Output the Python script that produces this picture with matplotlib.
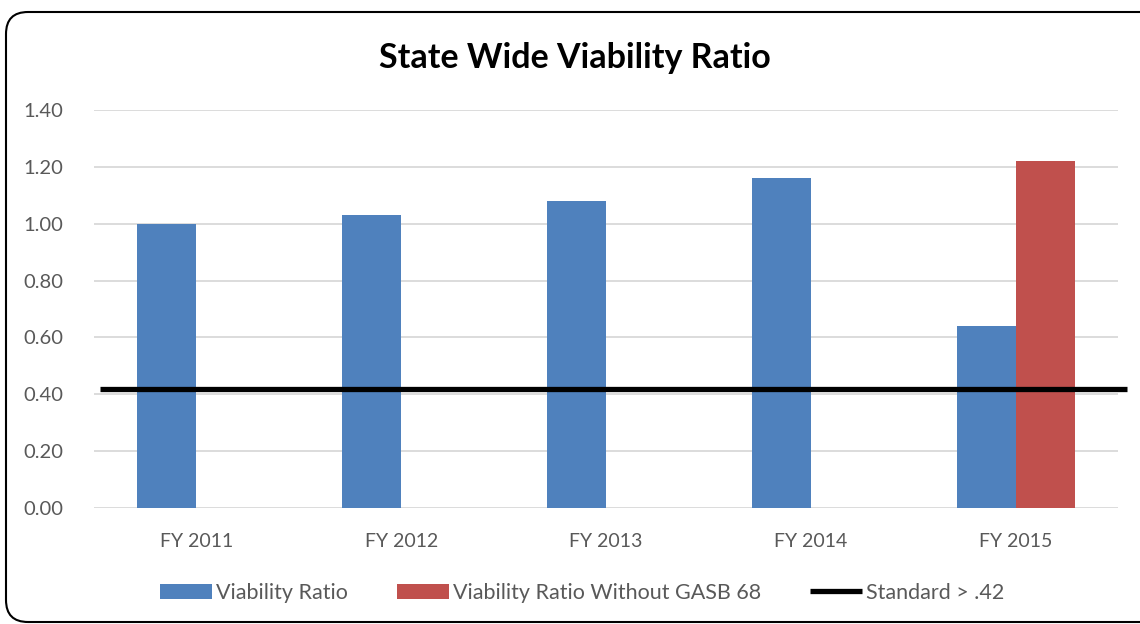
import matplotlib
matplotlib.use("Agg")
import matplotlib.pyplot as plt
from matplotlib.patches import FancyBboxPatch
import numpy as np

categories = ["FY 2011", "FY 2012", "FY 2013", "FY 2014", "FY 2015"]
viability_ratio = [1.00, 1.03, 1.08, 1.16, 0.64]
viability_without_gasb68 = [np.nan, np.nan, np.nan, np.nan, 1.22]
standard_value = 0.42
yticks = [0.0, 0.2, 0.4, 0.6, 0.8, 1.0, 1.2, 1.4]

BLUE = "#4F81BD"
RED = "#C0504D"
GRAY = "#595959"
GRID = "#D9D9D9"

plt.rcParams['font.family'] = ['Lato', 'DejaVu Sans']

fig = plt.figure(figsize=(11.4, 6.24), dpi=100)
ax = fig.add_axes([94/1140, 1-508/624, (1118-94)/1140, (508-110)/624])

x = np.arange(len(categories))
w = 0.288
b1 = ax.bar(x - w/2, viability_ratio, width=w, color=BLUE, label="Viability Ratio", zorder=2)
b2 = ax.bar(x + w/2, viability_without_gasb68, width=w, color=RED,
            label="Viability Ratio Without GASB 68", zorder=2)
l1, = ax.plot([-0.47, 4.545], [standard_value, standard_value], color="black", lw=3.8,
              solid_capstyle="butt", clip_on=False, zorder=3, label="Standard > .42")

ax.set_xlim(-0.5, 4.5)
ax.set_ylim(0, 1.4)
ax.set_yticks(yticks)
ax.set_yticklabels([f"{v:.2f}" for v in yticks])
ax.set_xticks(x)
ax.set_xticklabels(categories)
ax.yaxis.grid(True, color=GRID, lw=1.3, zorder=0)
ax.set_axisbelow(True)
for s in ax.spines.values():
    s.set_visible(False)
ax.tick_params(axis='both', length=0, labelsize=14, labelcolor=GRAY)
ax.tick_params(axis='y', labelsize=14.5, pad=22)
ax.tick_params(axis='x', pad=18)

fig.text(575/1140, 1-58/624, "State Wide Viability Ratio", ha="center", va="center",
         fontsize=24.5, fontweight="bold", color="black")

leg = fig.legend([b1, b2, l1], ["Viability Ratio", "Viability Ratio Without GASB 68", "Standard > .42"],
                 loc="center", bbox_to_anchor=(582/1140, 1-593/624),
                 ncol=3, frameon=False, fontsize=15.5, labelcolor=GRAY,
                 handlelength=2.4, handleheight=0.7, handletextpad=0.18, columnspacing=2.3)

border = FancyBboxPatch((6, 2), 1160, 610, boxstyle="round,pad=0,rounding_size=22",
                        transform=None, fill=False, edgecolor="black", lw=1.5)
fig.add_artist(border)

fig.savefig("out.png", dpi=100)
